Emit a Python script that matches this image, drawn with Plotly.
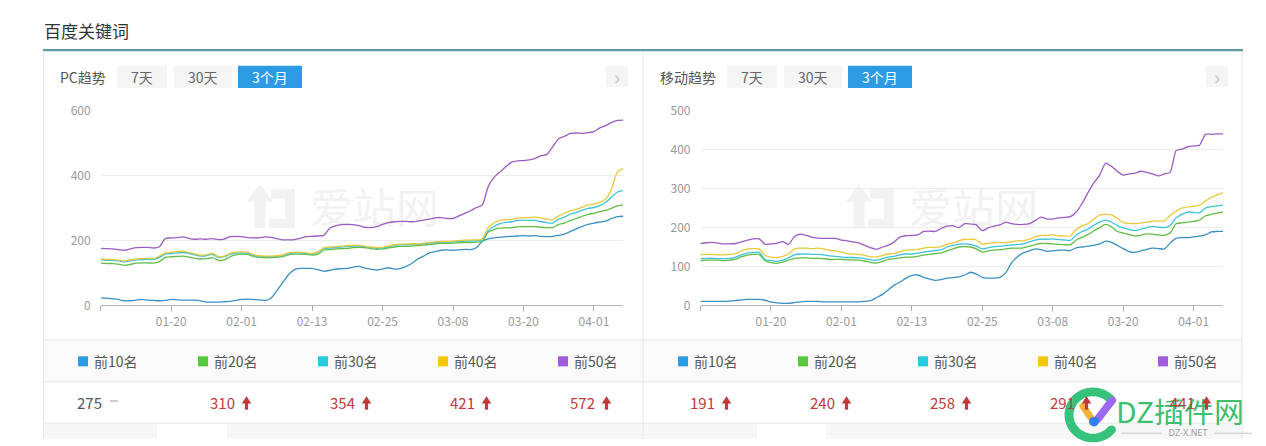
import math
import base64
import pandas as pd
import plotly.graph_objects as go

W, H = 1266, 446

# ---------------- data ----------------
dates = pd.date_range("2020-01-08", periods=90).strftime("%m-%d").tolist()
tick_dates = ["01-08", "01-20", "02-01", "02-13", "02-25", "03-08", "03-20", "04-01"]
tick_text = ["", "01-20", "02-01", "02-13", "02-25", "03-08", "03-20", "04-01"]

series_names = ["前10名", "前20名", "前30名", "前40名", "前50名"]

pc_top10 = [23, 22, 20, 18, 14, 14, 16, 18, 16, 15,
            14, 15, 18, 17, 16, 16, 16, 14, 10, 10,
            10, 11, 12, 15, 18, 19, 18, 17, 15, 22,
            45, 70, 95, 110, 114, 114, 114, 110, 105, 108,
            112, 113, 114, 118, 120, 115, 112, 109, 112, 116,
            112, 113, 120, 130, 143, 152, 162, 166, 170, 171,
            170, 171, 173, 172, 178, 198, 205, 208, 210, 212,
            213, 214, 215, 214, 215, 213, 212, 213, 216, 220,
            228, 236, 244, 250, 254, 257, 260, 268, 274, 275]
pc_top20 = [130, 129, 129, 127, 123, 126, 130, 131, 131, 130,
            135, 148, 150, 151, 152, 149, 145, 143, 144, 147,
            139, 140, 150, 156, 158, 157, 151, 148, 147, 147,
            148, 150, 156, 158, 158, 157, 155, 158, 170, 172,
            174, 175, 176, 178, 179, 178, 175, 173, 174, 177,
            180, 182, 182, 183, 184, 186, 188, 190, 191, 191,
            192, 193, 194, 194, 195, 197, 226, 234, 238, 239,
            240, 242, 243, 243, 243, 241, 240, 240, 250, 254,
            262, 268, 275, 281, 284, 289, 293, 300, 307, 310]
pc_top30 = [140, 139, 138, 137, 134, 137, 140, 141, 142, 141,
            148, 158, 160, 162, 163, 160, 156, 152, 153, 157,
            148, 150, 157, 161, 162, 161, 155, 151, 150, 150,
            151, 154, 159, 161, 162, 160, 158, 163, 175, 177,
            178, 180, 182, 183, 183, 181, 178, 176, 177, 181,
            185, 187, 187, 188, 188, 190, 192, 194, 195, 195,
            196, 197, 198, 199, 199, 202, 230, 244, 252, 256,
            258, 262, 263, 262, 262, 258, 255, 254, 266, 272,
            282, 287, 293, 299, 302, 308, 318, 334, 350, 354]
pc_top40 = [143, 142, 141, 140, 137, 140, 143, 144, 145, 144,
            152, 162, 164, 166, 167, 163, 159, 155, 156, 161,
            151, 152, 160, 164, 165, 164, 157, 153, 152, 152,
            153, 156, 162, 164, 164, 162, 160, 165, 178, 180,
            181, 183, 184, 185, 185, 183, 180, 178, 179, 183,
            187, 189, 189, 190, 190, 192, 194, 196, 197, 197,
            198, 200, 201, 202, 202, 205, 240, 255, 262, 264,
            266, 270, 271, 271, 272, 270, 266, 264, 276, 284,
            292, 296, 303, 310, 313, 318, 328, 360, 412, 421]
pc_top50 = [176, 175, 174, 172, 170, 174, 178, 179, 179, 177,
            181, 206, 208, 209, 211, 207, 204, 205, 204, 206,
            203, 204, 212, 213, 212, 209, 208, 208, 211, 210,
            206, 202, 202, 203, 207, 212, 213, 214, 216, 238,
            245, 249, 250, 249, 246, 241, 240, 243, 250, 255,
            258, 259, 259, 258, 260, 263, 266, 270, 271, 268,
            268, 276, 284, 292, 302, 310, 367, 395, 412, 428,
            442, 446, 447, 449, 454, 462, 466, 490, 514, 522,
            531, 532, 531, 533, 536, 548, 555, 565, 571, 572]

mob_top10 = [10, 10, 10, 10, 10, 11, 12, 14, 15, 15,
             15, 13, 8, 6, 5, 5, 7, 9, 10, 10,
             10, 9, 9, 9, 9, 9, 9, 9, 10, 12,
             20, 28, 40, 52, 60, 70, 77, 78, 72, 68,
             64, 66, 70, 71, 73, 78, 85, 80, 72, 70,
             70, 72, 84, 110, 125, 135, 140, 145, 143, 139,
             140, 142, 142, 141, 148, 150, 152, 154, 158, 165,
             162, 154, 146, 138, 136, 140, 144, 147, 146, 145,
             160, 172, 174, 174, 176, 178, 181, 189, 190, 190]
mob_top20 = [115, 116, 116, 116, 115, 116, 119, 125, 129, 131,
             131, 115, 110, 108, 111, 116, 121, 122, 122, 121,
             121, 120, 118, 118, 118, 117, 117, 116, 114, 110,
             109, 113, 118, 120, 122, 124, 124, 126, 129, 131,
             133, 135, 140, 145, 150, 151, 150, 145, 137, 140,
             142, 143, 145, 147, 147, 148, 152, 156, 159, 159,
             158, 157, 156, 156, 168, 175, 182, 192, 200, 208,
             202, 190, 186, 182, 178, 180, 184, 183, 181, 180,
             186, 210, 212, 214, 216, 219, 230, 234, 237, 240]
mob_top30 = [120, 121, 121, 120, 120, 121, 124, 130, 134, 136,
             136, 118, 115, 113, 116, 122, 130, 132, 132, 131,
             131, 130, 127, 126, 124, 123, 123, 122, 120, 117,
             116, 120, 124, 126, 130, 132, 132, 134, 137, 139,
             141, 143, 150, 154, 157, 158, 157, 152, 145, 148,
             151, 152, 154, 155, 156, 158, 163, 168, 170, 170,
             171, 169, 168, 167, 180, 190, 196, 206, 214, 219,
             214, 205, 199, 195, 192, 196, 200, 203, 201, 200,
             205, 225, 234, 240, 239, 238, 250, 254, 256, 258]
mob_top40 = [130, 131, 131, 130, 130, 131, 133, 140, 145, 146,
             145, 128, 124, 123, 126, 132, 145, 147, 147, 146,
             147, 145, 141, 140, 137, 133, 132, 131, 128, 125,
             124, 128, 132, 133, 138, 142, 143, 144, 147, 149,
             149, 151, 157, 160, 166, 170, 170, 168, 157, 160,
             161, 162, 161, 164, 166, 166, 170, 176, 180, 180,
             181, 179, 178, 179, 195, 205, 210, 222, 232, 234,
             233, 224, 213, 211, 210, 212, 214, 216, 217, 217,
             232, 242, 250, 253, 255, 257, 268, 278, 284, 290]
mob_top50 = [159, 161, 162, 160, 158, 158, 159, 163, 168, 171,
             171, 157, 158, 160, 164, 157, 177, 183, 180, 175,
             173, 172, 172, 172, 168, 166, 163, 160, 154, 148,
             144, 150, 155, 163, 176, 179, 180, 181, 190, 191,
             190, 198, 204, 205, 200, 210, 209, 207, 192, 199,
             204, 207, 214, 210, 208, 208, 210, 218, 227, 222,
             222, 225, 226, 228, 240, 262, 290, 315, 335, 366,
             358, 345, 335, 338, 340, 345, 342, 338, 333, 338,
             342, 398, 402, 408, 410, 412, 440, 440, 441, 441]

pc_latest = [275, 310, 354, 421, 572]
pc_trend = ["flat", "up", "up", "up", "up"]
mob_latest = [191, 240, 258, 291, 441]
mob_trend = ["up", "up", "up", "up", "up"]

# ---------------- styles ----------------
legend_colors = ["#2d9be3", "#55c93a", "#28cbe0", "#f2c80f", "#a25ddc"]
line_colors = ["#3a8fc2", "#62bd45", "#3cc3d8", "#e8c93a", "#9b5cc4"]
FONT = "Noto Sans CJK SC, Noto Sans, sans-serif"
RED = "#c0393b"


def X(px):
    return px / W


def Y(py):
    return 1 - py / H


fig = go.Figure()

pc_series = [pc_top10, pc_top20, pc_top30, pc_top40, pc_top50]
mob_series = [mob_top10, mob_top20, mob_top30, mob_top40, mob_top50]
for name, ys, col in zip(series_names, pc_series, line_colors):
    fig.add_trace(go.Scatter(x=dates, y=ys, name=name, mode="lines",
                             line=dict(color=col, width=1.3, shape="spline", smoothing=0.6),
                             xaxis="x", yaxis="y", showlegend=False))
for name, ys, col in zip(series_names, mob_series, line_colors):
    fig.add_trace(go.Scatter(x=dates, y=ys, name=name, mode="lines",
                             line=dict(color=col, width=1.3, shape="spline", smoothing=0.6),
                             xaxis="x2", yaxis="y2", showlegend=False))

xcommon = dict(type="category", range=[0, len(dates) - 1], tickmode="array",
               tickvals=tick_dates, ticktext=tick_text, ticks="outside", ticklen=5,
               tickcolor="#aaa", showline=True, linecolor="#b5b5b5", linewidth=1,
               showgrid=False, zeroline=False, fixedrange=True,
               tickfont=dict(family=FONT, size=12, color="#999"))
ycommon = dict(showline=False, zeroline=False, gridcolor="#ececec", gridwidth=1,
               ticks="", ticklabelstandoff=9, fixedrange=True,
               tickfont=dict(family=FONT, size=12, color="#999"))

shapes = []
annotations = []


def rect(x0, y0, x1, y1, fill, line=None, layer="below"):
    shapes.append(dict(type="rect", xref="paper", yref="paper",
                       x0=X(x0), x1=X(x1), y0=Y(y1), y1=Y(y0),
                       fillcolor=fill, line=dict(width=0) if line is None else line,
                       layer=layer))


def hline(x0, x1, y, color, width=1):
    shapes.append(dict(type="line", xref="paper", yref="paper", x0=X(x0), x1=X(x1),
                       y0=Y(y), y1=Y(y), line=dict(color=color, width=width), layer="below"))


def vline(x, y0, y1, color, width=1):
    shapes.append(dict(type="line", xref="paper", yref="paper", x0=X(x), x1=X(x),
                       y0=Y(y0), y1=Y(y1), line=dict(color=color, width=width), layer="below"))


def text(x, y, s, size=14, color="#555", anchor="left", family=FONT, weight=None):
    f = dict(family=family, size=size, color=color)
    if weight:
        f["weight"] = weight
    annotations.append(dict(text=s, x=X(x), y=Y(y), xref="paper", yref="paper",
                            xanchor=anchor, yanchor="middle", showarrow=False, font=f))


# title and top bar
text(42, 21, "百度关键词", size=17, color="#333")
rect(43, 40.5, 1243, 43, "#5b9aa6")

# table rows background
rect(43.5, 343, 1242, 386.5, "#fafafa")
rect(43.5, 430, 1242, 446, "#f7f7f7")
rect(157, 430, 227, 446, "#ffffff")
rect(757, 430, 826, 446, "#ffffff")
for yy in (343, 386.5, 429.5):
    hline(43.5, 1242, yy, "#e6e6e6")
for xx in (43.5, 643, 1242):
    vline(xx, 43, 446, "#e6e6e6")

# header controls of both panels
for off, label in ((0, "PC趋势"), (600, "移动趋势")):
    text(58 + off, 70, label, size=14, color="#555")
    bshift = 0 if off == 0 else 610
    for (bx0, bx1, lab, act) in ((117, 167, "7天", False), (174, 232, "30天", False),
                                 (238, 302, "3个月", True)):
        rect(bx0 + bshift, 58, bx1 + bshift, 81, "#2d9be3" if act else "#f5f5f5")
        text((bx0 + bx1) / 2 + bshift, 70, lab, size=14,
             color="#ffffff" if act else "#666", anchor="center")
    rect(606 + off, 58, 628 + off, 80, "#f5f5f5")
    text(617 + off, 69, "›", size=20, color="#c4c4c4", anchor="center")

# legend row + values row
for off, latest, trend in ((0, pc_latest, pc_trend), (600, mob_latest, mob_trend)):
    for i, (name, col) in enumerate(zip(series_names, legend_colors)):
        cs = 43 + off + 120 * i
        rect(cs + 35, 360, cs + 45, 370.5, col, layer="above")
        text(cs + 49, 365, name, size=14, color="#555")
        if trend[i] == "flat":
            text(cs + 61, 408, str(latest[i]), size=15, color="#555", anchor="right")
            hline(cs + 67, cs + 75, 406.5, "#aaa", 1.2)
        else:
            ac = cs + 83.5
            text(ac - 9.5, 408, str(latest[i]), size=15, color=RED, anchor="right")
            shapes.append(dict(type="path", xref="paper", yref="paper",
                               path=f"M {X(ac-4.8)},{Y(409)} L {X(ac)},{Y(401.5)} L {X(ac+4.8)},{Y(409)} Z",
                               fillcolor=RED, line=dict(width=0), layer="above"))
            rect(ac - 1.6, 408, ac + 1.6, 415.5, RED, layer="above")

# faint "爱站网" watermark in the plot areas (below traces)
svg = ("<svg xmlns='http://www.w3.org/2000/svg' width='195' height='50' viewBox='0 0 195 50'>"
       "<path d='M1 21 L14 3 L27 21 L19.5 21 L19.5 49 L8.5 49 L8.5 21 Z' fill='#f2f2f2'/>"
       "<path d='M25 8 L49 8 L49 49 L23 49 L23 39 L39 39 L39 18 L25 18 Z' fill='#f2f2f2'/>"
       "<text x='64' y='43' font-family='Noto Sans CJK SC' font-size='43' fill='#f2f2f2'>爱站网</text>"
       "</svg>")
src = "data:image/svg+xml;base64," + base64.b64encode(svg.encode("utf-8")).decode()
images = []
for x0 in (246, 845):
    images.append(dict(source=src, xref="paper", yref="paper", x=X(x0), y=Y(178),
                       sizex=195 / W, sizey=50 / H, xanchor="left", yanchor="top",
                       sizing="stretch", layer="below"))

# DZ watermark overlay at the bottom right (an image stamped over the page)
arc_pts = []
for k in range(0, 57):
    a = math.radians(40 + k * 5)
    arc_pts.append(f"{29 + 24 * math.cos(a):.2f},{29 - 24 * math.sin(a):.2f}")
dz_svg = ("<svg xmlns='http://www.w3.org/2000/svg' width='190' height='58' viewBox='0 0 190 58'>"
          f"<polyline points='{' '.join(arc_pts)}' fill='none' stroke='#35c27a' stroke-width='9' stroke-linecap='round'/>"
          "<line x1='19' y1='20' x2='27' y2='32' stroke='#f4b337' stroke-width='7' stroke-linecap='round'/>"
          "<line x1='34' y1='33' x2='48' y2='14' stroke='#9a6af0' stroke-width='8' stroke-linecap='round'/>"
          "<circle cx='30' cy='36' r='5' fill='#2f7ff2'/>"
          "<text x='52' y='37' font-family='Noto Sans CJK SC' font-size='30' fill='#3dbf6e'>DZ插件网</text>"
          "<line x1='57' y1='48' x2='98' y2='48' stroke='#c8c8c8' stroke-width='1'/>"
          "<line x1='150' y1='48' x2='188' y2='48' stroke='#c8c8c8' stroke-width='1'/>"
          "<text x='124' y='51' text-anchor='middle' font-family='Noto Sans' font-size='9' fill='#9a9a9a'>DZ-X.NET</text>"
          "</svg>")
dz_src = "data:image/svg+xml;base64," + base64.b64encode(dz_svg.encode("utf-8")).decode()
images.append(dict(source=dz_src, xref="paper", yref="paper", x=X(1064), y=Y(392),
                   sizex=190 / W, sizey=58 / H, xanchor="left", yanchor="top",
                   sizing="stretch", layer="above"))

fig.update_layout(
    width=W, height=H, autosize=False,
    margin=dict(l=0, r=0, t=0, b=0, pad=0),
    paper_bgcolor="#ffffff", plot_bgcolor="rgba(0,0,0,0)",
    font=dict(family=FONT),
    xaxis=dict(domain=[X(100.7), X(623.3)], anchor="y", **xcommon),
    yaxis=dict(domain=[Y(307), Y(105)], anchor="x", range=[0, 600], dtick=200, **ycommon),
    xaxis2=dict(domain=[X(700.5), X(1223)], anchor="y2", **xcommon),
    yaxis2=dict(domain=[Y(307), Y(105)], anchor="x2", range=[0, 500], dtick=100, **ycommon),
    shapes=shapes, annotations=annotations, images=images,
    showlegend=False, hovermode=False,
)

fig.write_html("out.html", config={"displayModeBar": False})
